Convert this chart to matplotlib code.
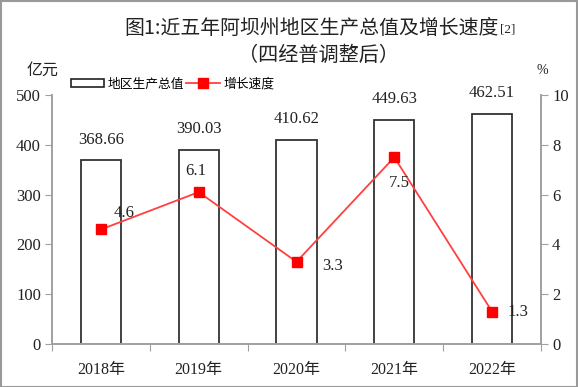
import matplotlib.pyplot as plt
from matplotlib.patches import Rectangle
from matplotlib.lines import Line2D

## Data
years = ["2018年", "2019年", "2020年", "2021年", "2022年"]
gdp = [368.66, 390.03, 410.62, 449.63, 462.51]
growth = [4.6, 6.1, 3.3, 7.5, 1.3]
gdp_ticks = [0, 100, 200, 300, 400, 500]
growth_ticks = [0, 2, 4, 6, 8, 10]
# label offsets for the growth values (points)
growth_offsets = [(16.5, 12), (-2, 15.5), (26, -3), (3.5, -18.5), (18.5, 0)]

NUM = ["Liberation Serif", "Noto Sans CJK SC"]
CJK = ["Noto Sans CJK SC", "DejaVu Sans"]
TXT = "#222222"
AXC = "#a0a0a0"

fig = plt.figure(figsize=(5.78, 3.87), dpi=100)
ax = fig.add_axes([52 / 578, 43 / 387, 489 / 578, 249 / 387])
ax2 = ax.twinx()

x = list(range(len(years)))

## Bars
bars = ax.bar(x, gdp, width=0.41, color="white", edgecolor="#333333", linewidth=1.3, zorder=2)
for xi, v in zip(x, gdp):
	ax.annotate(f"{v:.2f}", xy=(xi, v), xytext=(0, 15), textcoords="offset points",
		ha="center", va="center", fontsize=12, family=NUM, color=TXT)

## Growth line
ax2.plot(x, growth, color="#ff4040", linewidth=1.3, marker="s", markersize=7,
	markerfacecolor="#ff0000", markeredgecolor="#ff0000", zorder=3)
for xi, v, off in zip(x, growth, growth_offsets):
	ax2.annotate(f"{v:.1f}", xy=(xi, v), xytext=off, textcoords="offset points",
		ha="center", va="center", fontsize=12, family=NUM, color=TXT)

## Axes styling
ax.set_xlim(-0.5, len(years) - 0.5)
ax.set_ylim(0, 500)
ax2.set_ylim(0, 10)
ax.set_yticks(gdp_ticks)
ax2.set_yticks(growth_ticks)
ax.set_xticks([i - 0.5 for i in range(len(years) + 1)])
ax.set_xticklabels([])
ax.set_xticks(x, minor=True)
ax.set_xticklabels(years, minor=True, fontsize=11.5, family=NUM, color=TXT)
ax.tick_params(axis="x", which="minor", length=0, pad=13)
ax.tick_params(axis="x", which="major", length=5, color=AXC, direction="out")
ax.tick_params(axis="y", length=5, color=AXC, labelsize=12, labelcolor=TXT, pad=3)
ax2.tick_params(axis="y", length=5, color=AXC, labelsize=12, labelcolor=TXT, pad=3)
for a in (ax, ax2):
	for lab in a.get_yticklabels():
		lab.set_family(NUM)
	a.spines["top"].set_visible(False)
	for s in ("left", "right", "bottom"):
		a.spines[s].set_color(AXC)
		a.spines[s].set_linewidth(1.2)

## Titles and units
t = fig.text(311 / 578, 1 - 28 / 387, "图1:近五年阿坝州地区生产总值及增长速度", ha="center", va="center",
	fontsize=14.3, family=CJK, color=TXT)
ax.annotate("[2]", xy=(1, 0.12), xycoords=t, xytext=(1, 0), textcoords="offset points",
	ha="left", va="bottom", fontsize=9.5, family=NUM, color=TXT)
fig.text(318 / 578, 1 - 55 / 387, "（四经普调整后）", ha="center", va="center",
	fontsize=14.5, family=CJK, color=TXT)
fig.text(43 / 578, 1 - 70 / 387, "亿元", ha="center", va="center", fontsize=11.5, family=CJK, color=TXT)
fig.text(542 / 578, 1 - 71 / 387, "%", ha="center", va="center", fontsize=10, family=NUM, color=TXT)

## Legend
handles = [Rectangle((0, 0), 1, 1, facecolor="white", edgecolor="#222222", linewidth=1.2),
	Line2D([], [], color="#ff4040", linewidth=1.3, marker="s", markersize=7,
		markerfacecolor="#ff0000", markeredgecolor="#ff0000")]
fig.legend(handles, ["地区生产总值", "增长速度"], loc="center left",
	bbox_to_anchor=(71 / 578, 1 - 84 / 387), ncol=2, frameon=False, borderpad=0, borderaxespad=0,
	handlelength=2.6, handleheight=0.65, handletextpad=0.3, columnspacing=0.15,
	prop={"family": CJK, "size": 9.2})

## Outer border
fig.patches.append(Rectangle((0.001, 0.001), 0.997, 0.997, transform=fig.transFigure,
	fill=False, edgecolor="#999999", linewidth=1.5))

fig.savefig("out.png", dpi=100)
